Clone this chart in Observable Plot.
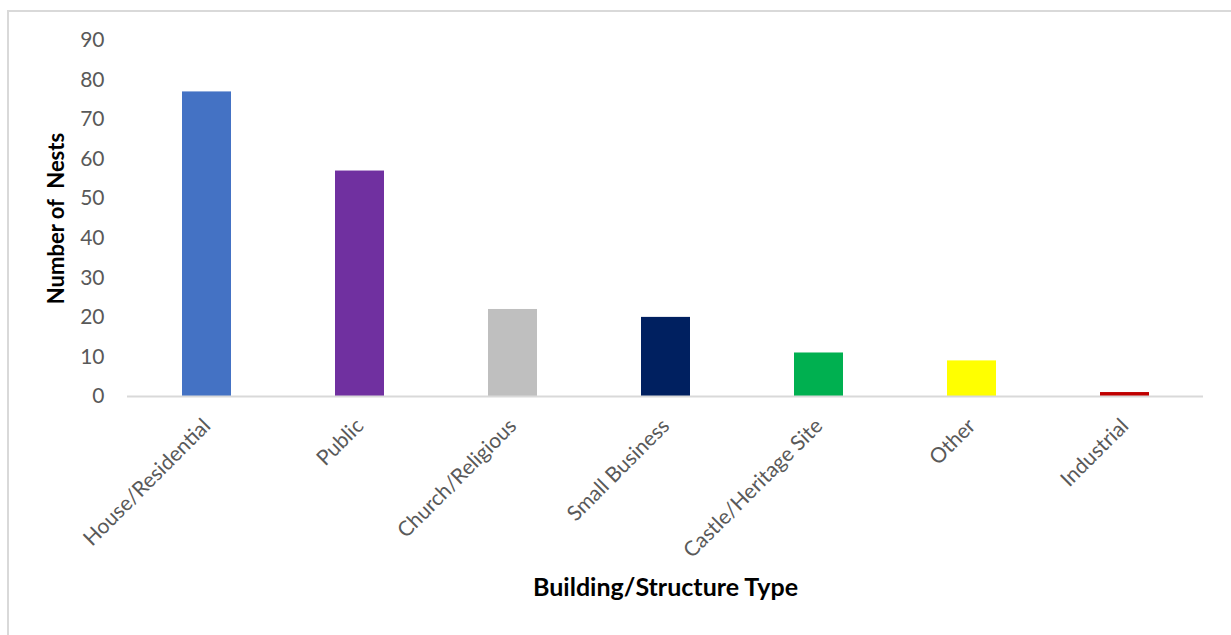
<!DOCTYPE html>
<html>
<head>
<meta charset="utf-8">
<script src="https://cdn.jsdelivr.net/npm/d3@7"></script>
<script src="https://cdn.jsdelivr.net/npm/@observablehq/plot@0.6"></script>
<style>
  html, body { margin: 0; padding: 0; background: #fff; overflow: hidden; width: 1231px; height: 635px; }
  #frame { position: absolute; left: 7px; top: 10px; width: 1400px; height: 800px; border-top: 2px solid #D9D9D9; border-left: 2px solid #D9D9D9; }
  #chart { position: absolute; left: 0; top: 0; }
  #chart svg text { white-space: pre; }
  g[aria-label="x-axis label"] text { font-weight: bold; font-size: 25px; fill: #000; }
  g[aria-label="y-axis label"] text { font-weight: bold; font-size: 22px; fill: #000; }
</style>
</head>
<body>
<div id="frame"></div>
<div id="chart"></div>
<script>
const categories = ["House/Residential", "Public", "Church/Religious", "Small Business", "Castle/Heritage Site", "Other", "Industrial"];
const nests = [77, 57, 22, 20, 11, 9, 1];
const barColors = ["#4472C4", "#7030A0", "#BFBFBF", "#002060", "#00B050", "#FFFF00", "#C00000"];
const yTicks = [0, 10, 20, 30, 40, 50, 60, 70, 80, 90];

const data = categories.map((c, i) => ({category: c, value: nests[i]}));

const chart = Plot.plot({
  width: 1231,
  height: 635,
  marginLeft: 127,
  marginRight: 28,
  marginTop: 40,
  marginBottom: 239,
  style: {fontFamily: "Lato, 'Open Sans', sans-serif", fontSize: "21px", color: "#595959", background: "transparent"},
  x: {domain: categories, paddingInner: 0.68, paddingOuter: 0.34},
  y: {domain: [0, 90]},
  color: {domain: categories, range: barColors},
  marks: [
    Plot.barY(data, {x: "category", y: "value", fill: "category"}),
    Plot.ruleY([0], {stroke: "#D9D9D9", strokeWidth: 2}),
    Plot.axisY({ticks: yTicks, tickSize: 0, tickPadding: 23, label: "Number of  Nests", labelAnchor: "center", labelOffset: 79, labelArrow: "none", fill: "#595959"}),
    Plot.axisX({tickSize: 0, tickPadding: 26, tickRotate: -45, label: "Building/Structure Type", labelAnchor: "center", labelOffset: 199, labelArrow: "none", fill: "#595959"})
  ]
});
document.getElementById("chart").appendChild(chart);
</script>
</body>
</html>
